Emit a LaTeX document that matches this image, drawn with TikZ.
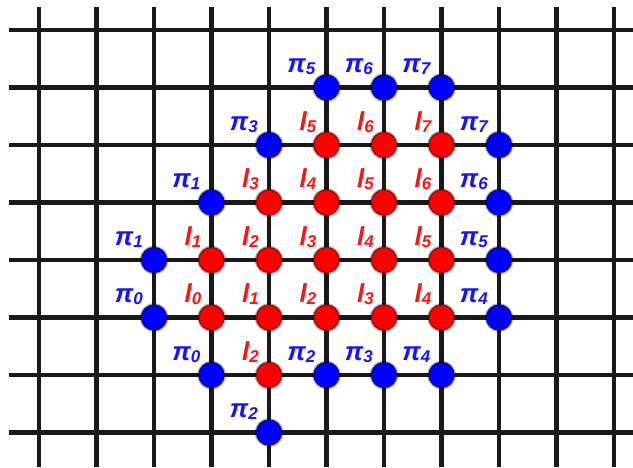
\documentclass[tikz,border=0pt]{standalone}
\usepackage{fontspec}
\setmainfont{Liberation Sans}
\definecolor{dotblue}{RGB}{0,0,255}
\definecolor{dotred}{RGB}{255,0,0}
\definecolor{labblue}{RGB}{20,20,255}
\definecolor{labred}{RGB}{255,20,20}
\newcommand\mysub[1]{\raisebox{-2pt}{\fontsize{17}{17}\selectfont #1}}
\begin{document}
\begin{tikzpicture}[x=1pt,y=-1pt,
  gridline/.style={line width=4.2pt, black!90},
  halo/.style={circle, fill=black, inner sep=0pt, minimum size=#1pt, opacity=0.3},
  bluedot/.style={circle, fill=dotblue, draw=dotblue!65!black, line width=1.2pt, inner sep=0pt, minimum size=25pt},
  reddot/.style={circle, fill=dotred, draw=dotred!65!black, line width=1.2pt, inner sep=0pt, minimum size=25pt},
  bluelab/.style={anchor=base east, inner sep=0pt, text=labblue, font=\fontsize{26}{26}\selectfont\bfseries\itshape},
  redlab/.style={anchor=base east, inner sep=0pt, text=labred, font=\fontsize{26}{26}\selectfont\bfseries\itshape}]
\useasboundingbox (0,0) rectangle (633,467);
\fill[white] (0,0) rectangle (633,467);
% grid
\foreach \i in {0,...,10} {
  \coordinate (vt\i) at ({39+57.5*\i},7);
  \coordinate (vb\i) at ({39+57.5*\i},467);
  \draw[gridline] (vt\i) -- (vb\i);
}
\foreach \j in {0,...,7} {
  \coordinate (hl\j) at (9,{30+57.5*\j});
  \coordinate (hr\j) at (633,{30+57.5*\j});
  \draw[gridline] (hl\j) -- (hr\j);
}
% blue dots
\foreach \i/\j/\s in {5/1/5,6/1/6,7/1/7,4/2/3,8/2/7,3/3/1,8/3/6,2/4/1,8/4/5,2/5/0,8/5/4,3/6/0,5/6/2,6/6/3,7/6/4,4/7/2} {
  \node[halo=28.5] (bh\i\j) at ({39+57.5*\i},{30+57.5*\j}) {};
  \node[bluedot] (b\i\j) at ({39+57.5*\i},{30+57.5*\j}) {};
  \node[bluelab] (bl\i\j) at ({39+57.5*\i-11},{30+57.5*\j-15}) {π\mysub{\s}};
}
% red dots
\foreach \i/\j/\s in {5/2/5,6/2/6,7/2/7,4/3/3,5/3/4,6/3/5,7/3/6,3/4/1,4/4/2,5/4/3,6/4/4,7/4/5,3/5/0,4/5/1,5/5/2,6/5/3,7/5/4,4/6/2} {
  \node[halo=28.5] (rh\i\j) at ({39+57.5*\i},{30+57.5*\j}) {};
  \node[reddot] (r\i\j) at ({39+57.5*\i},{30+57.5*\j}) {};
  \node[redlab] (rl\i\j) at ({39+57.5*\i-10},{30+57.5*\j-15}) {l\mysub{\s}};
}
\end{tikzpicture}
\end{document}
